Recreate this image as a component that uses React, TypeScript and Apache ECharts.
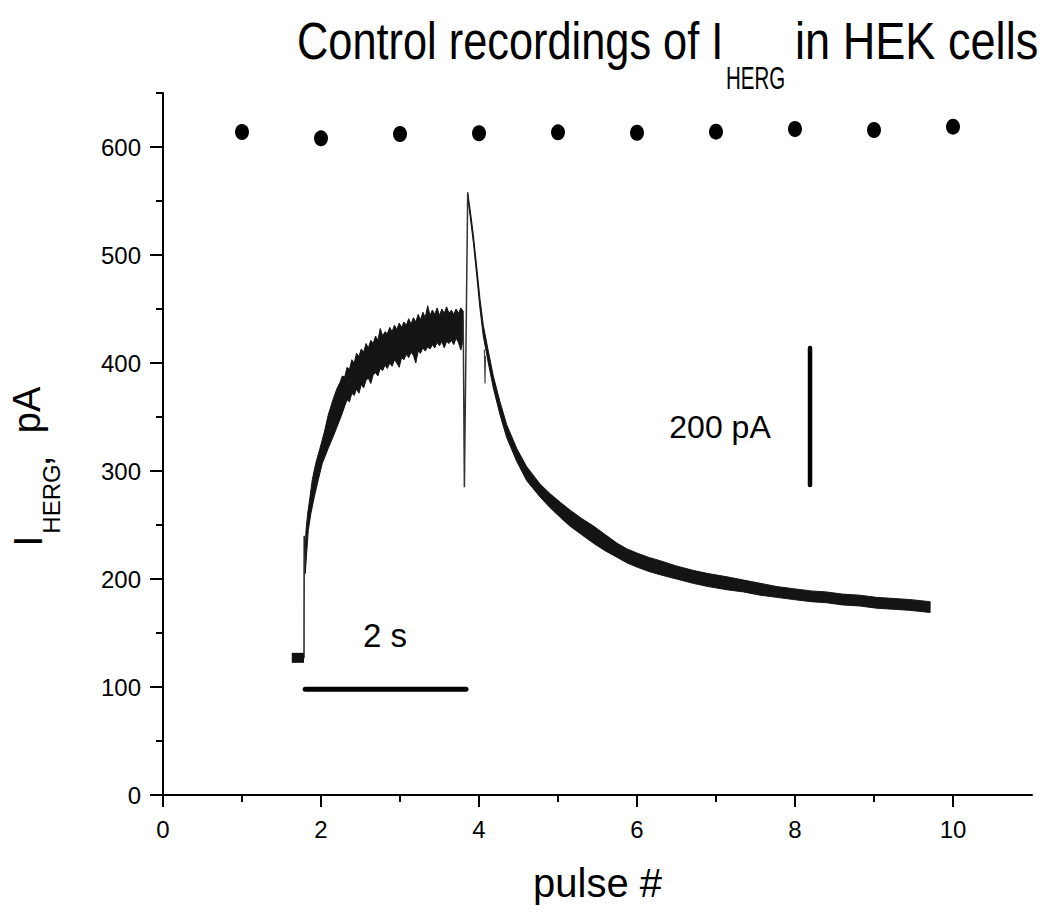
import React, { useEffect, useRef } from "react";
import * as echarts from "echarts";

// ---- data ----
const pulseNumbers = [1, 2, 3, 4, 5, 6, 7, 8, 9, 10];
const peakCurrents = [613.9, 608, 612, 612.7, 613.6, 613.2, 614.2, 616.7, 615.7, 618.8];

const xMajorTicks = [0, 2, 4, 6, 8, 10];
const xMinorTicks = [1, 3, 5, 7, 9];
const yMajorTicks = [0, 100, 200, 300, 400, 500, 600];
const yMinorTicks = [50, 150, 250, 350, 450, 550, 650];

// holding current before the step (thick block)
const holdingTrace = [[1.63, 127], [1.785, 127]];
// thin parts of the sweeps
const stepTrace = [[1.785, 127], [1.787, 240], [1.80, 222]];
const tailStepTrace = [[3.80, 440], [3.815, 285], [3.857, 557]];
const artifactTrace = [[4.068, 412], [4.076, 381], [4.082, 406]];

// envelope of the overlaid sweeps during the activating step
const riseUpper = [
  [1.8, 222], [1.81, 245], [1.832, 261], [1.861, 276], [1.89, 292], [1.933, 307], [1.987, 321],
  [2.042, 336], [2.092, 352], [2.156, 367], [2.2, 376], [2.24, 382], [2.27, 388], [2.3, 387],
  [2.33, 396], [2.36, 394], [2.39, 403], [2.42, 400], [2.45, 409], [2.48, 406], [2.51, 413],
  [2.54, 410], [2.57, 418], [2.6, 414], [2.63, 421], [2.66, 418], [2.69, 425], [2.72, 421],
  [2.75, 432], [2.78, 425], [2.81, 429], [2.84, 427], [2.87, 433], [2.9, 429], [2.93, 435],
  [2.96, 431], [2.99, 437], [3.02, 433], [3.05, 438], [3.08, 435], [3.11, 441], [3.14, 436],
  [3.17, 442], [3.2, 438], [3.23, 445], [3.26, 440], [3.29, 447], [3.32, 442], [3.35, 453],
  [3.38, 444], [3.41, 449], [3.44, 445], [3.47, 451], [3.5, 444], [3.53, 450], [3.56, 446],
  [3.59, 452], [3.62, 446], [3.65, 449], [3.68, 445], [3.71, 450], [3.74, 446], [3.77, 451],
  [3.8, 448],
];
const riseLower = [
  [1.8, 205], [1.839, 245], [1.873, 261], [1.915, 276], [1.966, 292], [2.016, 307], [2.092, 321],
  [2.177, 336], [2.262, 352], [2.3, 360], [2.33, 366], [2.36, 364], [2.39, 372], [2.42, 370],
  [2.45, 376], [2.48, 372], [2.51, 380], [2.54, 377], [2.57, 384], [2.6, 386], [2.63, 381],
  [2.66, 389], [2.69, 391], [2.72, 388], [2.75, 395], [2.78, 393], [2.81, 398], [2.84, 395],
  [2.87, 400], [2.9, 397], [2.93, 403], [2.96, 400], [2.99, 396], [3.02, 405], [3.05, 403],
  [3.08, 408], [3.11, 405], [3.14, 410], [3.17, 407], [3.2, 400], [3.23, 411], [3.26, 409],
  [3.29, 414], [3.32, 411], [3.35, 415], [3.38, 413], [3.41, 417], [3.44, 414], [3.47, 419],
  [3.5, 416], [3.53, 420], [3.56, 414], [3.59, 420], [3.62, 418], [3.65, 421], [3.68, 417],
  [3.71, 423], [3.74, 419], [3.77, 412], [3.8, 422],
];
// envelope of the sweeps during the tail (deactivation)
const decayUpper = [
  [3.857, 558], [3.886, 543], [3.928, 519], [3.971, 489], [4.013, 459], [4.054, 435], [4.118, 411],
  [4.181, 388], [4.266, 364], [4.35, 343], [4.477, 321], [4.604, 304], [4.772, 288], [4.9, 279],
  [5.03, 271], [5.15, 264], [5.3, 256], [5.45, 249], [5.6, 241], [5.75, 233], [5.87, 228],
  [6.0, 224], [6.15, 220], [6.29, 217], [6.5, 212], [6.71, 208], [6.9, 205], [7.14, 202],
  [7.35, 199], [7.56, 196], [7.77, 193], [7.98, 191], [8.2, 189], [8.4, 188], [8.6, 186],
  [8.82, 185], [9.03, 183], [9.24, 182], [9.45, 181], [9.71, 179],
];
const decayLower = [
  [3.857, 553], [3.886, 537], [3.928, 512], [3.971, 481], [4.013, 450], [4.054, 425], [4.118, 400],
  [4.181, 377], [4.266, 352], [4.35, 331], [4.477, 309], [4.604, 291], [4.772, 276], [4.9, 266],
  [5.03, 257], [5.15, 249], [5.3, 241], [5.45, 233], [5.6, 226], [5.75, 220], [5.87, 215],
  [6.0, 211], [6.15, 207], [6.29, 204], [6.5, 200], [6.71, 196], [6.9, 193], [7.14, 190],
  [7.35, 188], [7.56, 185], [7.77, 183], [7.98, 181], [8.2, 179], [8.4, 178], [8.6, 176],
  [8.82, 175], [9.03, 173], [9.24, 172], [9.45, 171], [9.71, 169],
];

// scale bars
const timeBar = [[1.8, 98], [3.835, 98]];
const currentBar = [[8.19, 287], [8.19, 414]];

const FONT = "Liberation Sans, Arial, Helvetica, sans-serif";

export default function App() {
  const ref = useRef<HTMLDivElement>(null);

  useEffect(() => {
    if (!ref.current) return;
    const chart = echarts.init(ref.current, undefined, { renderer: "svg" });

    const lineSeries = (data: number[][], width: number, color = "#000", cap = "round") => ({
      type: "line",
      data,
      showSymbol: false,
      symbol: "none",
      xAxisIndex: 0,
      yAxisIndex: 0,
      lineStyle: { color, width, cap, opacity: 1 },
      silent: true,
      z: 3,
    });

    const option: any = {
      animation: false,
      backgroundColor: "#fff",
      grid: { left: 163, right: 16, top: 93, bottom: 117, containLabel: false, outerBoundsMode: "none" },
      xAxis: [
        {
          type: "value",
          min: 0,
          max: 11,
          position: "bottom",
          axisLine: { show: true, onZero: false, lineStyle: { color: "#000", width: 2 } },
          axisTick: { show: true, inside: false, length: 12, customValues: xMajorTicks, lineStyle: { color: "#000", width: 2 } },
          axisLabel: { customValues: xMajorTicks, fontSize: 24, color: "#000", fontFamily: FONT, margin: 22 },
          splitLine: { show: false },
          name: "pulse #",
          nameLocation: "middle",
          nameGap: 68,
          nameTextStyle: { fontSize: 40, color: "#000", fontFamily: FONT },
        },
        {
          type: "value",
          min: 0,
          max: 11,
          position: "bottom",
          axisLine: { show: false },
          axisTick: { show: true, inside: false, length: 7, customValues: xMinorTicks, lineStyle: { color: "#000", width: 2 } },
          axisLabel: { show: false },
          splitLine: { show: false },
        },
      ],
      yAxis: [
        {
          type: "value",
          min: 0,
          max: 650,
          position: "left",
          axisLine: { show: true, onZero: false, lineStyle: { color: "#000", width: 2 } },
          axisTick: { show: true, inside: false, length: 13, customValues: yMajorTicks, lineStyle: { color: "#000", width: 2 } },
          axisLabel: { customValues: yMajorTicks, fontSize: 24, color: "#000", fontFamily: FONT, margin: 22 },
          splitLine: { show: false },
        },
        {
          type: "value",
          min: 0,
          max: 650,
          position: "left",
          axisLine: { show: false },
          axisTick: { show: true, inside: false, length: 7, customValues: yMinorTicks, lineStyle: { color: "#000", width: 2 } },
          axisLabel: { show: false },
          splitLine: { show: false },
        },
      ],
      series: [
        {
          type: "custom",
          xAxisIndex: 0,
          yAxisIndex: 0,
          data: [[2, 300]],
          silent: true,
          z: 2,
          renderItem: (_params: any, api: any) => {
            const poly = (up: number[][], lo: number[][]) =>
              up.map((p) => api.coord(p)).concat(lo.slice().reverse().map((p) => api.coord(p)));
            return {
              type: "group",
              children: [
                {
                  type: "polygon",
                  shape: { points: poly(riseUpper, riseLower) },
                  style: { fill: "#141414", stroke: "#141414", lineWidth: 1 },
                },
                {
                  type: "polygon",
                  shape: { points: poly(decayUpper, decayLower) },
                  style: { fill: "#141414", stroke: "#141414", lineWidth: 1 },
                },
              ],
            };
          },
        },
        lineSeries(holdingTrace, 10, "#111", "butt"),
        lineSeries(stepTrace, 1.5, "#222"),
        lineSeries(tailStepTrace, 1.5, "#333"),
        lineSeries(artifactTrace, 1.2, "#444"),
        lineSeries(timeBar, 5, "#000"),
        lineSeries(currentBar, 4.5, "#000"),
        {
          type: "scatter",
          data: pulseNumbers.map((p, i) => [p, peakCurrents[i]]),
          symbol: "circle",
          symbolSize: [14, 16],
          itemStyle: { color: "#000", opacity: 1 },
          silent: true,
          z: 4,
        },
      ],
      graphic: [
        {
          type: "text",
          x: 297,
          y: 41,
          scaleX: 0.85,
          style: { text: "Control recordings of I", fontSize: 51, fontFamily: FONT, fill: "#000", textAlign: "left", textVerticalAlign: "middle", align: "left", verticalAlign: "middle" },
        },
        {
          type: "text",
          x: 726,
          y: 78,
          scaleX: 0.64,
          style: { text: "HERG", fontSize: 32, fontFamily: FONT, fill: "#000", textAlign: "left", textVerticalAlign: "middle", align: "left", verticalAlign: "middle" },
        },
        {
          type: "text",
          x: 795,
          y: 41,
          scaleX: 0.885,
          style: { text: "in HEK cells", fontSize: 51, fontFamily: FONT, fill: "#000", textAlign: "left", textVerticalAlign: "middle", align: "left", verticalAlign: "middle" },
        },
        {
          type: "text",
          x: 28,
          y: 541,
          rotation: Math.PI / 2,
          style: { text: "I", fontSize: 41, fontFamily: FONT, fill: "#000", textAlign: "center", textVerticalAlign: "middle", align: "center", verticalAlign: "middle" },
        },
        {
          type: "text",
          x: 51,
          y: 499,
          rotation: Math.PI / 2,
          style: { text: "HERG", fontSize: 24, fontFamily: FONT, fill: "#000", textAlign: "center", textVerticalAlign: "middle", align: "center", verticalAlign: "middle" },
        },
        {
          type: "text",
          x: 36,
          y: 461,
          rotation: Math.PI / 2,
          style: { text: ",", fontSize: 40, fontFamily: FONT, fill: "#000", textAlign: "center", textVerticalAlign: "middle", align: "center", verticalAlign: "middle" },
        },
        {
          type: "text",
          x: 27,
          y: 410,
          rotation: Math.PI / 2,
          style: { text: "pA", fontSize: 38, fontFamily: FONT, fill: "#000", textAlign: "center", textVerticalAlign: "middle", align: "center", verticalAlign: "middle" },
        },
        {
          type: "text",
          x: 385,
          y: 635,
          style: { text: "2 s", fontSize: 33, fontFamily: FONT, fill: "#000", textAlign: "center", textVerticalAlign: "middle", align: "center", verticalAlign: "middle" },
        },
        {
          type: "text",
          x: 720,
          y: 427,
          style: { text: "200 pA", fontSize: 32, fontFamily: FONT, fill: "#000", textAlign: "center", textVerticalAlign: "middle", align: "center", verticalAlign: "middle" },
        },
      ],
    };

    chart.setOption(option);
    return () => chart.dispose();
  }, []);

  return (
    <div
      ref={ref}
      style={{ position: "absolute", left: 0, top: 0, width: 1048, height: 912, background: "#fff" }}
    />
  );
}
